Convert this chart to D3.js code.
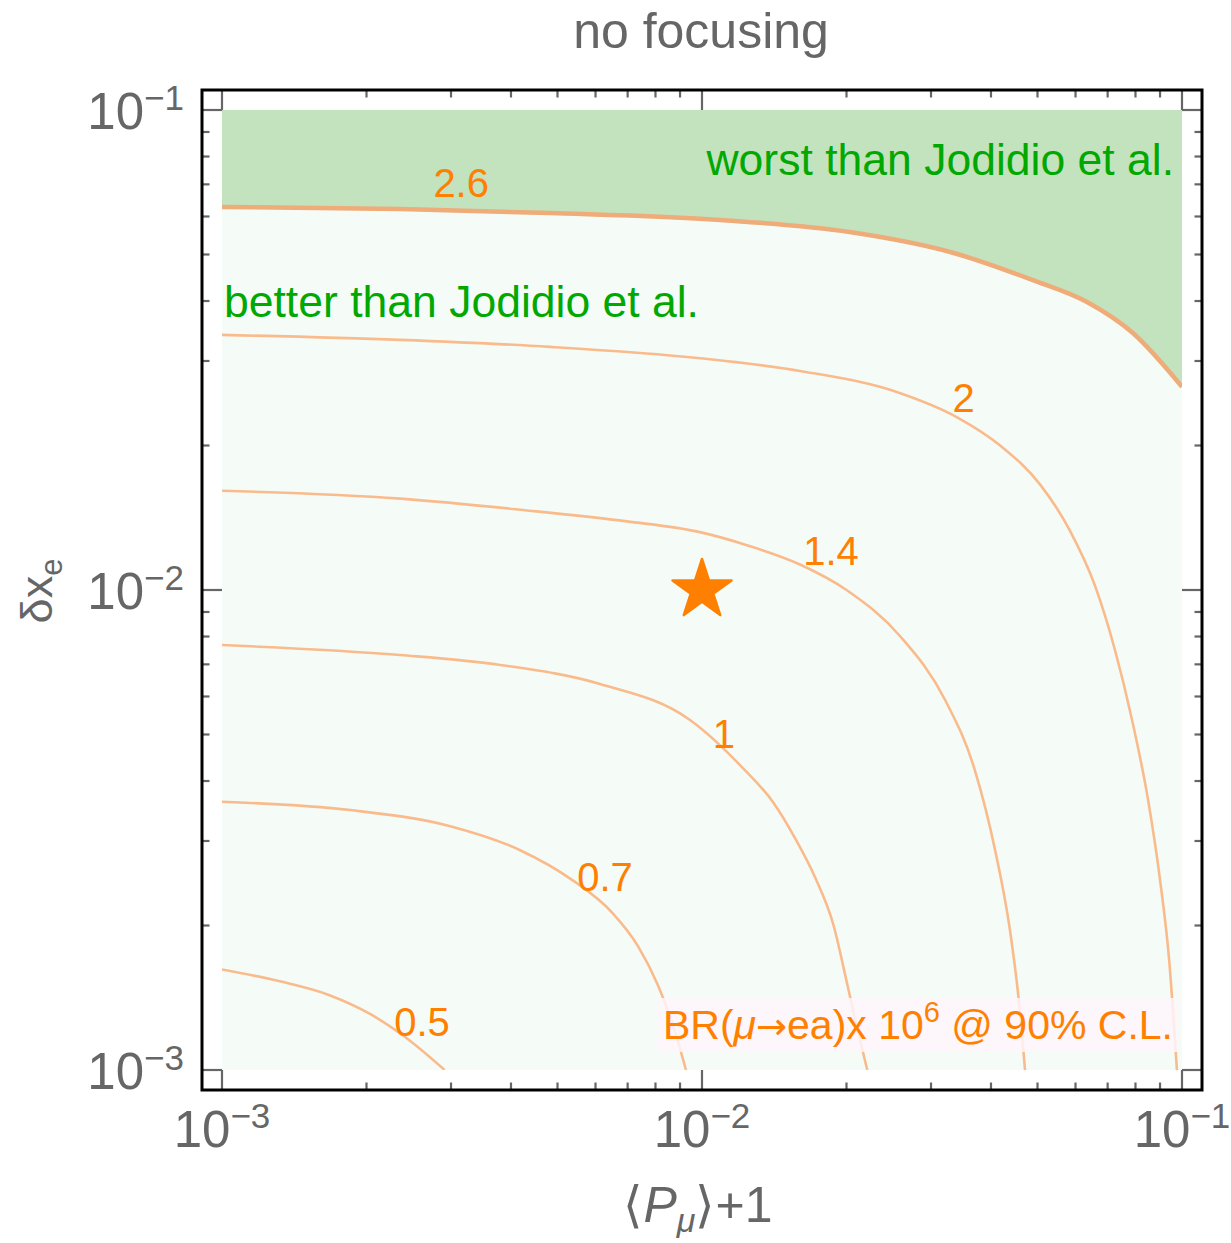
<!DOCTYPE html>
<html>
<head>
<meta charset="utf-8">
<script src="https://cdn.jsdelivr.net/npm/d3@7"></script>
<style>
  html, body { margin: 0; padding: 0; background: #ffffff; }
  svg { display: block; }
  text { font-family: "Liberation Sans", Arial, Helvetica, sans-serif; }
</style>
</head>
<body>
<svg id="chart" width="1231" height="1243"></svg>
<script>
// Contour levels of BR(mu -> e a) x 10^6 and the traced iso-lines,
// each point is [<P_mu>+1, delta x_e].
const levels = [0.5, 0.7, 1, 1.4, 2, 2.6];

const contour05 = [[0.001,0.00162],[0.00132,0.00153],[0.00168,0.00143],[0.00203,0.00131],[0.00241,0.00117],[0.00291,0.001]];
const contour07 = [[0.001,0.00362],[0.00185,0.00348],[0.00299,0.00322],[0.00418,0.00287],[0.00536,0.00249],[0.00649,0.00213],[0.00736,0.00181],[0.0081,0.0015],[0.0087,0.00124],[0.00926,0.001]];
const contour1  = [[0.001,0.00768],[0.00235,0.00732],[0.0038,0.00698],[0.00613,0.00637],[0.00944,0.00536],[0.0121,0.00428],[0.0141,0.00360],[0.0156,0.00305],[0.0172,0.00252],[0.0188,0.0020],[0.0201,0.0015],[0.0211,0.00121],[0.0221,0.001]];
const contour14 = [[0.001,0.0161],[0.00235,0.0155],[0.00418,0.0147],[0.00698,0.0139],[0.0099,0.0132],[0.0124,0.0124],[0.0160,0.0113],[0.0200,0.0100],[0.0259,0.0080],[0.0321,0.0059],[0.0370,0.00422],[0.0408,0.00287],[0.0438,0.00196],[0.0457,0.0014],[0.0471,0.001]];
const contour2  = [[0.001,0.0340],[0.00235,0.0332],[0.00483,0.0321],[0.0099,0.0304],[0.0160,0.0286],[0.0259,0.0257],[0.0340,0.0229],[0.0418,0.0200],[0.0506,0.0166],[0.0584,0.0133],[0.0659,0.0102],[0.0725,0.0075],[0.0787,0.00536],[0.0850,0.00365],[0.0900,0.00249],[0.0940,0.0017],[0.0976,0.001]];
const contour26 = [[0.001,0.0628],[0.00235,0.0622],[0.00483,0.0610],[0.0109,0.0590],[0.0203,0.0557],[0.0329,0.0506],[0.0489,0.0442],[0.0634,0.0398],[0.0790,0.0343],[0.1,0.0265]];

const contours = [contour05, contour07, contour1, contour14, contour2, contour26];

// where each level's label sits, [<P_mu>+1, delta x_e]
const labelPositions = [[0.00261,0.00126],[0.00628,0.00252],[0.01111,0.00501],[0.01857,0.01206],[0.0351,0.0251],[0.00315,0.0705]];

// benchmark point
const benchmark = [0.01, 0.01];

// axis decades and their exponents
const majorTicks = [1e-3, 1e-2, 1e-1];
const tickExponents = ["\u22123", "\u22122", "\u22121"];

const title = "no focusing";
const regionWorse = "worst than Jodidio et al.";
const regionBetter = "better than Jodidio et al.";

// ---- layout ----
const frame = {left: 202, top: 90, right: 1202, bottom: 1090};
const pad = 20;
const x = d3.scaleLog().domain([1e-3, 1e-1]).range([frame.left + pad, frame.right - pad]);
const y = d3.scaleLog().domain([1e-3, 1e-1]).range([frame.bottom - pad, frame.top + pad]);

const gray = "#666666";
const orange = "#ff8000";
const lineOrange = "#fabb8c";
const green = "#00a800";

const svg = d3.select("#chart");

svg.append("defs").append("clipPath").attr("id", "plotClip")
  .append("rect")
  .attr("x", x.range()[0]).attr("y", y.range()[1])
  .attr("width", x.range()[1] - x.range()[0])
  .attr("height", y.range()[0] - y.range()[1]);

const plot = svg.append("g").attr("clip-path", "url(#plotClip)");

// allowed region background
plot.append("rect")
  .attr("x", x.range()[0]).attr("y", y.range()[1])
  .attr("width", x.range()[1] - x.range()[0])
  .attr("height", y.range()[0] - y.range()[1])
  .attr("fill", "#f5fcf7");

const curve = d3.curveMonotoneX;

// excluded region above the top contour
const area = d3.area()
  .x(d => x(d[0]))
  .y0(y(1e-1))
  .y1(d => y(d[1]))
  .curve(curve);
plot.append("path").datum(contour26).attr("d", area).attr("fill", "#c3e2be");

const line = d3.line().x(d => x(d[0])).y(d => y(d[1])).curve(curve);

contours.forEach((c, i) => {
  const top = i === contours.length - 1;
  plot.append("path").datum(c)
    .attr("d", line)
    .attr("fill", "none")
    .attr("stroke", top ? "#efab78" : lineOrange)
    .attr("stroke-width", top ? 4.5 : 2.6)
    .attr("stroke-linejoin", "round");
});

// level labels
plot.selectAll("text.level").data(levels).join("text")
  .attr("class", "level")
  .attr("x", (d, i) => x(labelPositions[i][0]))
  .attr("y", (d, i) => y(labelPositions[i][1]))
  .attr("dy", "0.35em")
  .attr("text-anchor", "middle")
  .attr("font-size", 40)
  .attr("fill", orange)
  .text(d => String(d));

// region captions
plot.append("text")
  .attr("x", x(1e-1) - 8).attr("y", 175)
  .attr("text-anchor", "end").attr("font-size", 44.5).attr("fill", green)
  .text(regionWorse);
plot.append("text")
  .attr("x", x(1e-3) + 2).attr("y", 317)
  .attr("text-anchor", "start").attr("font-size", 44.5).attr("fill", green)
  .text(regionBetter);

// legend caption box (translucent, lines show faintly through it)
const legendBox = {x0: 657, x1: 1178, y0: 998, y1: 1052};
svg.append("rect")
  .attr("x", legendBox.x0).attr("y", legendBox.y0)
  .attr("width", legendBox.x1 - legendBox.x0).attr("height", legendBox.y1 - legendBox.y0)
  .attr("fill", "#fef5fb").attr("fill-opacity", 0.85);
const leg = svg.append("text")
  .attr("x", legendBox.x1 - 5).attr("y", 1039)
  .attr("text-anchor", "end").attr("font-size", 41).attr("fill", orange);
leg.append("tspan").text("BR(");
leg.append("tspan").attr("font-style", "italic").text("\u03bc");
leg.append("tspan").attr("font-family", "DejaVu Sans").attr("font-size", 37).text("\u2192");
leg.append("tspan").text("ea)x 10");
leg.append("tspan").attr("font-size", 29).attr("dy", -17).text("6");
leg.append("tspan").attr("dy", 17).text(" @ 90% C.L.");

// benchmark star
svg.append("path")
  .attr("d", d3.symbol(d3.symbolStar, 1080)())
  .attr("transform", `translate(${x(benchmark[0])},${y(benchmark[1])})`)
  .attr("fill", orange)
  .attr("stroke", orange)
  .attr("stroke-width", 2.5)
  .attr("stroke-linejoin", "round");

// ---- frame and ticks ----
const allTicks = x.ticks();
const isMajor = v => majorTicks.some(m => Math.abs(Math.log10(v) - Math.log10(m)) < 1e-9);
const ticksG = svg.append("g").attr("stroke", gray).attr("stroke-width", 2.2);
allTicks.forEach(v => {
  const len = isMajor(v) ? pad : 7.5;
  const px = x(v), py = y(v);
  ticksG.append("line").attr("x1", px).attr("x2", px).attr("y1", frame.bottom).attr("y2", frame.bottom - len);
  ticksG.append("line").attr("x1", px).attr("x2", px).attr("y1", frame.top).attr("y2", frame.top + len);
  ticksG.append("line").attr("y1", py).attr("y2", py).attr("x1", frame.left).attr("x2", frame.left + len);
  ticksG.append("line").attr("y1", py).attr("y2", py).attr("x1", frame.right).attr("x2", frame.right - len);
});

svg.append("rect")
  .attr("x", frame.left).attr("y", frame.top)
  .attr("width", frame.right - frame.left).attr("height", frame.bottom - frame.top)
  .attr("fill", "none").attr("stroke", "#000").attr("stroke-width", 3);

// tick labels
majorTicks.forEach((v, i) => {
  const tx = svg.append("text")
    .attr("x", x(v)).attr("y", 1147)
    .attr("text-anchor", "middle").attr("font-size", 51).attr("fill", gray);
  tx.append("tspan").text("10");
  tx.append("tspan").attr("font-size", 35).attr("dy", -19).text(tickExponents[i]);

  const ty = svg.append("text")
    .attr("x", 184).attr("y", y(v) + 19)
    .attr("text-anchor", "end").attr("font-size", 51).attr("fill", gray);
  ty.append("tspan").text("10");
  ty.append("tspan").attr("font-size", 35).attr("dy", -19).text(tickExponents[i]);
});

// title
svg.append("text")
  .attr("x", 701).attr("y", 48)
  .attr("text-anchor", "middle").attr("font-size", 50).attr("fill", gray)
  .text(title);

// axis titles
const xl = svg.append("text")
  .attr("x", 698).attr("y", 1222)
  .attr("text-anchor", "middle").attr("font-size", 50).attr("fill", gray);
xl.append("tspan").text("\u27e8");
xl.append("tspan").attr("font-style", "italic").text("P");
xl.append("tspan").attr("font-style", "italic").attr("font-size", 34).attr("dy", 10).text("\u03bc");
xl.append("tspan").attr("dy", -10).text("\u27e9+1");

const yl = svg.append("text")
  .attr("transform", "translate(52,591) rotate(-90)")
  .attr("text-anchor", "middle").attr("font-size", 45).attr("fill", gray);
yl.append("tspan").text("\u03b4x");
yl.append("tspan").attr("font-size", 31).attr("dy", 10).text("e");
</script>
</body>
</html>
